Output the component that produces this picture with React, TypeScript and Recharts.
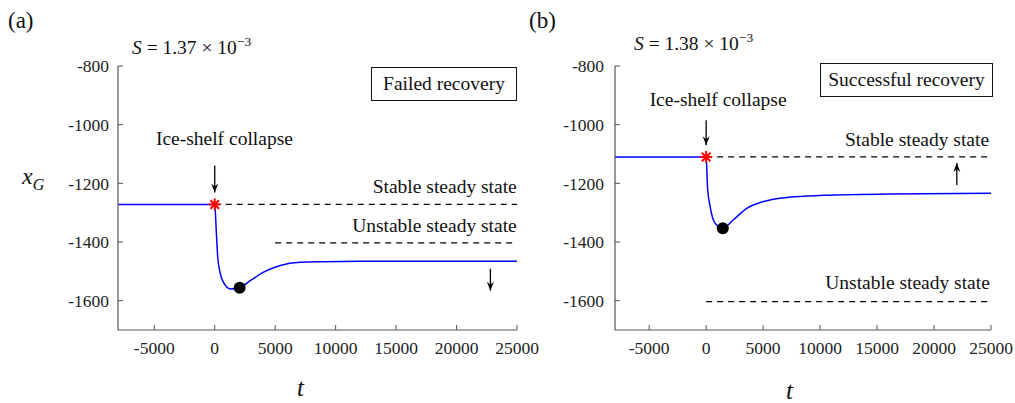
import React from "react";
import { ComposedChart, Line, Scatter, XAxis, YAxis } from "recharts";

// ---------- data ----------
const xTicks = [-5000, 0, 5000, 10000, 15000, 20000, 25000];
const yTicks = [-1600, -1400, -1200, -1000, -800];
const xDomain = [-8000, 25000];
const yDomain = [-1700, -800];

// panel (a): failed recovery
const aTime = [-8000, 0, 140, 250, 470, 800, 1290, 2060, 2940, 4040, 5410, 7060, 9000, 12000, 25000];
const aXg = [-1272, -1272, -1372, -1452, -1509, -1543, -1560, -1556, -1532, -1503, -1480, -1469, -1467, -1466, -1466];
const aStable = -1272;
const aUnstable = -1403;
const aUnstableStart = 5000;
const aMin = { t: 2060, v: -1556 };

// panel (b): successful recovery
const bTime = [-8000, 0, 117, 350, 790, 1460, 2400, 3570, 5030, 7370, 10290, 16140, 25000];
const bXg = [-1110, -1110, -1211, -1279, -1336, -1353, -1324, -1285, -1262, -1247, -1241, -1236, -1234];
const bStable = -1110;
const bUnstable = -1603;
const bUnstableStart = 0;
const bMin = { t: 1460, v: -1353 };

const toRows = (ts: number[], vs: number[]) => ts.map((t, i) => ({ t, v: vs[i] }));

const FONT = "'Liberation Serif', serif";

// ---------- shapes ----------
const Asterisk = (p: any) => {
  const { cx, cy } = p;
  const r = 6;
  const d = r * 0.707;
  return (
    <g stroke="#ff0000" strokeWidth={2}>
      <line x1={cx - r} y1={cy} x2={cx + r} y2={cy} />
      <line x1={cx} y1={cy - r} x2={cx} y2={cy + r} />
      <line x1={cx - d} y1={cy - d} x2={cx + d} y2={cy + d} />
      <line x1={cx - d} y1={cy + d} x2={cx + d} y2={cy - d} />
    </g>
  );
};

const Dot = (p: any) => <circle cx={p.cx} cy={p.cy} r={6} fill="#000" />;

const makeArrow = (len: number, down: boolean) => (p: any) => {
  const { cx, cy } = p;
  const s = down ? -1 : 1; // tail direction
  return (
    <g>
      <line x1={cx} y1={cy + s * len} x2={cx} y2={cy} stroke="#000" strokeWidth={1.3} />
      <path
        d={`M${cx - 3.5},${cy + s * 9} L${cx},${cy} L${cx + 3.5},${cy + s * 9} L${cx},${cy + s * 6} Z`}
        fill="#000"
      />
    </g>
  );
};

const makeText = (text: string, anchor: "start" | "middle" | "end") => (p: any) => (
  <text x={p.cx} y={p.cy} textAnchor={anchor} style={{ fontFamily: FONT, fontSize: 19.5 }} fill="#111">
    {text}
  </text>
);

// ---------- panel ----------
type PanelProps = {
  left: number;
  width: number;
  marginLeft: number;
  marginRight: number;
  rows: { t: number; v: number }[];
  stable: number;
  unstable: number;
  unstableStart: number;
  min: { t: number; v: number };
  collapseText: { t: number; v: number };
  collapseArrow: { t: number; v: number; len: number };
  trendArrow: { t: number; v: number; len: number; down: boolean };
  stableText: { t: number; v: number };
  unstableText: { t: number; v: number };
  yTickMargin: number;
};

const Panel = (p: PanelProps) => {
  const tickStyle = { fontFamily: FONT, fontSize: 17.5, fill: "#222" };
  return (
    <div style={{ position: "absolute", left: p.left, top: 0 }}>
      <ComposedChart
        width={p.width}
        height={403}
        margin={{ top: 66, right: p.marginRight, bottom: 43, left: p.marginLeft }}
        style={{ fontFamily: FONT }}
      >
        <XAxis
          dataKey="t"
          type="number"
          domain={xDomain}
          ticks={xTicks}
          interval={0}
          allowDataOverflow
          height={30}
          tickSize={-5}
          tickMargin={17}
          tick={tickStyle}
          axisLine={{ stroke: "#555", strokeWidth: 1.2 }}
          tickLine={{ stroke: "#555" }}
        />
        <YAxis
          dataKey="v"
          type="number"
          domain={yDomain}
          ticks={yTicks}
          interval={0}
          allowDataOverflow
          width={60}
          tickSize={-5}
          tickMargin={p.yTickMargin}
          tick={tickStyle}
          axisLine={{ stroke: "#555", strokeWidth: 1.2 }}
          tickLine={{ stroke: "#555" }}
        />
        <Line
          data={[{ t: 0, v: p.stable }, { t: 25000, v: p.stable }]}
          dataKey="v"
          stroke="#000"
          strokeWidth={1.2}
          strokeDasharray="6 5"
          dot={false}
          isAnimationActive={false}
        />
        <Line
          data={[{ t: p.unstableStart, v: p.unstable }, { t: 25000, v: p.unstable }]}
          dataKey="v"
          stroke="#000"
          strokeWidth={1.2}
          strokeDasharray="6 5"
          dot={false}
          isAnimationActive={false}
        />
        <Line
          data={p.rows}
          dataKey="v"
          type="monotone"
          stroke="#0000ff"
          strokeWidth={1.5}
          dot={false}
          isAnimationActive={false}
        />
        <Scatter data={[{ t: 0, v: p.stable }]} dataKey="v" shape={Asterisk} isAnimationActive={false} />
        <Scatter data={[p.min]} dataKey="v" shape={Dot} isAnimationActive={false} />
        <Scatter
          data={[{ t: p.collapseArrow.t, v: p.collapseArrow.v }]}
          dataKey="v"
          shape={makeArrow(p.collapseArrow.len, true)}
          isAnimationActive={false}
        />
        <Scatter
          data={[{ t: p.trendArrow.t, v: p.trendArrow.v }]}
          dataKey="v"
          shape={makeArrow(p.trendArrow.len, p.trendArrow.down)}
          isAnimationActive={false}
        />
        <Scatter data={[p.collapseText]} dataKey="v" shape={makeText("Ice-shelf collapse", "middle")} isAnimationActive={false} />
        <Scatter data={[p.stableText]} dataKey="v" shape={makeText("Stable steady state", "end")} isAnimationActive={false} />
        <Scatter data={[p.unstableText]} dataKey="v" shape={makeText("Unstable steady state", "end")} isAnimationActive={false} />
      </ComposedChart>
    </div>
  );
};

const abs = (l: number, t: number, extra: React.CSSProperties = {}): React.CSSProperties => ({
  position: "absolute",
  left: l,
  top: t,
  whiteSpace: "nowrap",
  lineHeight: 1,
  ...extra,
});

export default function App() {
  return (
    <div
      style={{
        position: "absolute",
        left: 0,
        top: 0,
        width: 1015,
        height: 403,
        background: "#fff",
        fontFamily: FONT,
        color: "#111",
        overflow: "hidden",
      }}
    >
      <Panel
        left={0}
        width={540}
        marginLeft={58}
        marginRight={23}
        rows={toRows(aTime, aXg)}
        stable={aStable}
        unstable={aUnstable}
        unstableStart={aUnstableStart}
        min={aMin}
        collapseText={{ t: 800, v: -1070 }}
        collapseArrow={{ t: 0, v: -1231, len: 27 }}
        trendArrow={{ t: 22800, v: -1566, len: 22, down: true }}
        stableText={{ t: 24980, v: -1232 }}
        unstableText={{ t: 24980, v: -1366 }}
        yTickMargin={14}
      />
      <Panel
        left={540}
        width={475}
        marginLeft={15}
        marginRight={24}
        rows={toRows(bTime, bXg)}
        stable={bStable}
        unstable={bUnstable}
        unstableStart={bUnstableStart}
        min={bMin}
        collapseText={{ t: 1050, v: -935 }}
        collapseArrow={{ t: 0, v: -1070, len: 25 }}
        trendArrow={{ t: 22000, v: -1131, len: 22, down: false }}
        stableText={{ t: 24830, v: -1074 }}
        unstableText={{ t: 24900, v: -1560 }}
        yTickMargin={16}
      />

      {/* panel labels */}
      <div style={abs(8, 9, { fontSize: 23 })}>(a)</div>
      <div style={abs(529, 9, { fontSize: 23 })}>(b)</div>

      <div style={abs(132, 35, { fontSize: 19.5 })}>
        <i>S</i> = 1.37 × 10<sup style={{ fontSize: 13.5 }}>−3</sup>
      </div>
      <div style={abs(634, 31, { fontSize: 19.5 })}>
        <i>S</i> = 1.38 × 10<sup style={{ fontSize: 13.5 }}>−3</sup>
      </div>

      {/* boxes */}
      <div
        style={abs(371, 67, {
          width: 146,
          height: 34,
          border: "1.3px solid #111",
          fontSize: 19.5,
          display: "flex",
          alignItems: "center",
          justifyContent: "center",
          boxSizing: "border-box",
        })}
      >
        Failed recovery
      </div>
      <div
        style={abs(820, 63, {
          width: 173,
          height: 34,
          border: "1.3px solid #111",
          fontSize: 19.5,
          display: "flex",
          alignItems: "center",
          justifyContent: "center",
          boxSizing: "border-box",
        })}
      >
        Successful recovery
      </div>

      {/* axis labels */}
      <div style={abs(22, 164, { fontSize: 24 })}>
        <i>x</i>
        <sub style={{ fontSize: 16, fontStyle: "italic" }}>G</sub>
      </div>
      <div style={abs(297, 375, { fontSize: 25, fontStyle: "italic" })}>t</div>
      <div style={abs(786, 378, { fontSize: 25, fontStyle: "italic" })}>t</div>
    </div>
  );
}
